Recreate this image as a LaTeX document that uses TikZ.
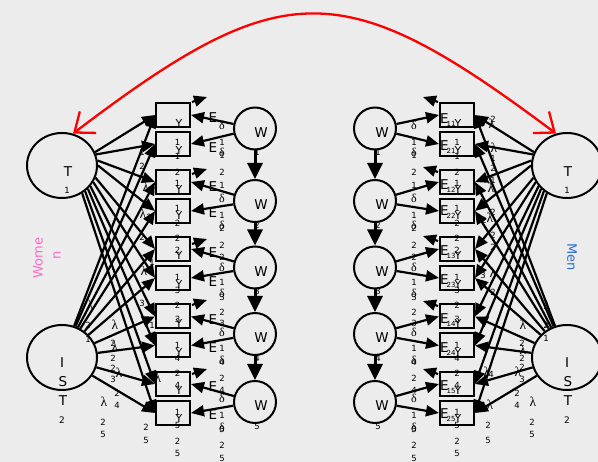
\documentclass[tikz,border=0pt]{standalone}
\usepackage{fontspec}
\setmainfont{DejaVu Sans}
\newfontfamily\serifgr{Liberation Serif}
\usetikzlibrary{arrows.meta,shapes.geometric}
\definecolor{bg}{RGB}{236,236,236}
\definecolor{wpink}{RGB}{255,105,200}
\definecolor{mblue}{RGB}{40,110,210}
\begin{document}
\begin{tikzpicture}[x=1pt,y=-1pt,
  tx/.style={inner sep=0pt},
  big/.style={tx,font=\fontsize{13.5}{14}\selectfont},
  ylab/.style={tx,font=\fontsize{11}{12}\selectfont},
  dig/.style={tx,font=\fontsize{8.5}{9}\selectfont},
  tiny/.style={tx,font=\fontsize{7}{7}\selectfont},
  lam/.style={tx,font=\serifgr\fontsize{13.5}{13}\selectfont},
  del/.style={tx,font=\serifgr\fontsize{12}{12}\selectfont},
  ybox/.style={draw,line width=2pt,minimum width=34pt,minimum height=24pt,inner sep=0pt},
  lat/.style={draw,ellipse,line width=2pt,minimum width=70pt,minimum height=65pt,inner sep=0pt},
  wc/.style={draw,circle,line width=2pt,minimum size=42pt,inner sep=0pt},
  arr/.style={line width=2.2pt,-{Triangle[length=13pt,width=11pt]}},
  varr/.style={line width=3pt,-{Triangle[length=16pt,width=15pt]}},
  redarr/.style={red,line width=2.3pt,{Straight Barb[length=17pt,width=27pt]}-{Straight Barb[length=17pt,width=27pt]}}
]
\useasboundingbox (0,0) rectangle (598,462);
\fill[bg] (0,0) rectangle (598,462);

% latent variables
\node[lat] (TL) at (62,165.5) {};
\node[lat] (IL) at (62,357.5) {};
\node[lat] (TR) at (567,165.5) {};
\node[lat] (IR) at (567,357.5) {};

% indicator boxes
\foreach \y [count=\k] in {115,144,182,211,249,278,316.5,345.5,384,413} {
  \node[ybox] (LB\k) at (173,\y) {};
  \node[ybox] (RB\k) at (457,\y) {};
}

% W circles
\foreach \y [count=\j] in {128.5,201,267.5,334,402} {
  \node[wc] (LW\j) at (255,\y) {};
  \node[wc] (RW\j) at (375,\y) {};
  \node[big] (LWt\j) at (261,\y+4) {W};
  \node[big] (RWt\j) at (382,\y+4) {W};
  \node[dig] (LWs\j) at (257,\y+24) {\j};
  \node[dig] (RWs\j) at (378,\y+24) {\j};
}

% loadings from T1 and IST2
\foreach \k/\a in {1/22,2/18,3/8,4/0,5/-20,6/-28,7/-36,8/-42,9/-48,10/-54} {
  \draw[arr] (TL.\a) -- (LB\k.west);
  \draw[arr] (TR.{180-\a}) -- (RB\k.east);
}
\foreach \k in {1,...,10} {
  \draw[arr] (IL) -- (LB\k.west);
  \draw[arr] (IR) -- (RB\k.east);
}

% W to boxes
\foreach \j/\a/\b in {1/1/2,2/3/4,3/5/6,4/7/8,5/9/10} {
  \draw[arr] (LW\j) -- (LB\a.east);
  \draw[arr] (LW\j) -- (LB\b.east);
  \draw[arr] (RW\j) -- (RB\a.west);
  \draw[arr] (RW\j) -- (RB\b.west);
}
% W chain
\foreach \j/\n in {1/2,2/3,3/4,4/5} {
  \draw[varr] (LW\j) -- (LW\n);
  \draw[varr] (RW\j) -- (RW\n);
}

% free arrowheads
\foreach \y [count=\k] in {98,170,240,301,370} {
  \coordinate (LEa\k) at (192,\y+4);
  \coordinate (LEb\k) at (207,\y-1);
  \draw[arr] (LEa\k) -- (LEb\k);
}
\foreach \y [count=\k] in {98,168,237,302,370} {
  \coordinate (REa\k) at (438,\y+4);
  \coordinate (REb\k) at (423,\y-1);
  \draw[arr] (REa\k) -- (REb\k);
}

% red covariance
\draw[redarr] (TL.71) .. controls (283,-26) and (343,-26) .. (TR.109);

% latent labels
\node[big] (tTL) at (68,172) {T};
\node[dig] (tTLs) at (67,190) {1};
\node[big] (tIL1) at (62,363) {I};
\node[big] (tIL2) at (63,382) {S};
\node[big] (tIL3) at (63,401) {T};
\node[tx,font=\fontsize{9}{9}\selectfont] (tIL4) at (62,420) {2};
\node[big] (tTR) at (568,172) {T};
\node[dig] (tTRs) at (567,190) {1};
\node[big] (tIR1) at (567,363) {I};
\node[big] (tIR2) at (568,382) {S};
\node[big] (tIR3) at (568,401) {T};
\node[tx,font=\fontsize{9}{9}\selectfont] (tIR4) at (567,420) {2};

% Y labels
\foreach \yy/\sa/\ia/\sb/\jb [count=\k] in {123/142/1/156/1, 150/172/2/183/1, 189/208/1/223/2, 215/238/2/250/2, 255/277/1/290/3, 284/305/2/319/3, 323/345/1/358/4, 352/373/2/385/4, 390/412/1/425/5, 418/441/2/453/5} {
  \node[ylab] (LY\k) at (179,\yy) {Y};
  \node[dig] (LYi\k) at (177.5,\sa) {\ia};
  \node[dig] (LYj\k) at (177.5,\sb) {\jb};
  \node[ylab] (RY\k) at (458,\yy) {Y};
  \node[dig] (RYi\k) at (457,\sa) {\ia};
  \node[dig] (RYj\k) at (457,\sb) {\jb};
  \node[big] (RE\k) at (444.5,\yy-4.5) {E};
  \node[tiny] (REs\k) at (451,\yy+1) {\ia\jb};
}

% E labels left
\foreach \e [count=\k] in {118,148,187,213,253,282,320,348,387,415} {
  \node[big] (LE\k) at (213,\e) {E};
}

% delta columns
\foreach \d/\ii/\di/\jj/\dj [count=\k] in {125/1/142/1/155, 152/2/172/1/185, 198/1/215/2/228, 225/2/245/2/257, 267/1/282/3/297, 293/2/312/3/323, 332/1/348/4/362, 360/2/378/4/390, 398/1/415/5/429, 427/2/445/5/458} {
  \node[del] (Ld\k) at (222,\d) {δ};
  \node[dig] (Ldi\k) at (222,\di) {\ii};
  \node[dig] (Ldj\k) at (222,\dj) {\jj};
  \node[del] (Rd\k) at (414,\d) {δ};
  \node[dig] (Rdi\k) at (414,\di) {\ii};
  \node[dig] (Rdj\k) at (414,\dj) {\jj};
}

% lambda labels left
\foreach \x/\y [count=\n] in {146/187,143/214,144/271,90/305,115/325,115/347,119/373,104/402,158/378} {
  \node[lam] (lamL\n) at (\x,\y) {λ};
}
\foreach \t/\x/\y [count=\n] in {1/142/152,2/142/166,2/149/217,2/142/237,1/152/262,3/142/303,2/88/325,1/88/339,1/152/325,2/113/343,2/113/358,2/113/368,3/113/379,2/117/393,4/117/405,2/103/422,5/103/434,2/146/427,5/146/440} {
  \node[dig] (ldL\n) at (\x,\y) {\t};
}
% lambda labels right
\foreach \x/\y [count=\n] in {492/124,494/148,491/188,490/218,493/273,547/305,523/325,523/350,518/372,533/402,487/372,490/405} {
  \node[lam] (lamR\n) at (\x,\y) {λ};
}
\foreach \t/\x/\y [count=\n] in {2/493/119,1/493/158,2/493/168,1/493/180,2/493/212,2/484/220,2/493/235,2/493/247,3/483/275,2/493/292,2/546/325,1/546/338,2/522/343,2/522/358,2/522/367,3/522/379,2/517/393,4/517/405,2/532/422,5/532/434,4/491/374,3/480/407,2/488/425,5/488/440} {
  \node[dig] (ldR\n) at (\x,\y) {\t};
}

% group labels
\node[tx,rotate=90,text=wpink,font=\fontsize{13}{13}\selectfont] (wom1) at (38,258) {Wome};
\node[tx,rotate=90,text=wpink,font=\fontsize{13}{13}\selectfont] (wom2) at (57,255) {n};
\node[tx,rotate=-90,text=mblue,font=\fontsize{13}{13}\selectfont] (men) at (572,257) {Men};
\end{tikzpicture}
\end{document}
